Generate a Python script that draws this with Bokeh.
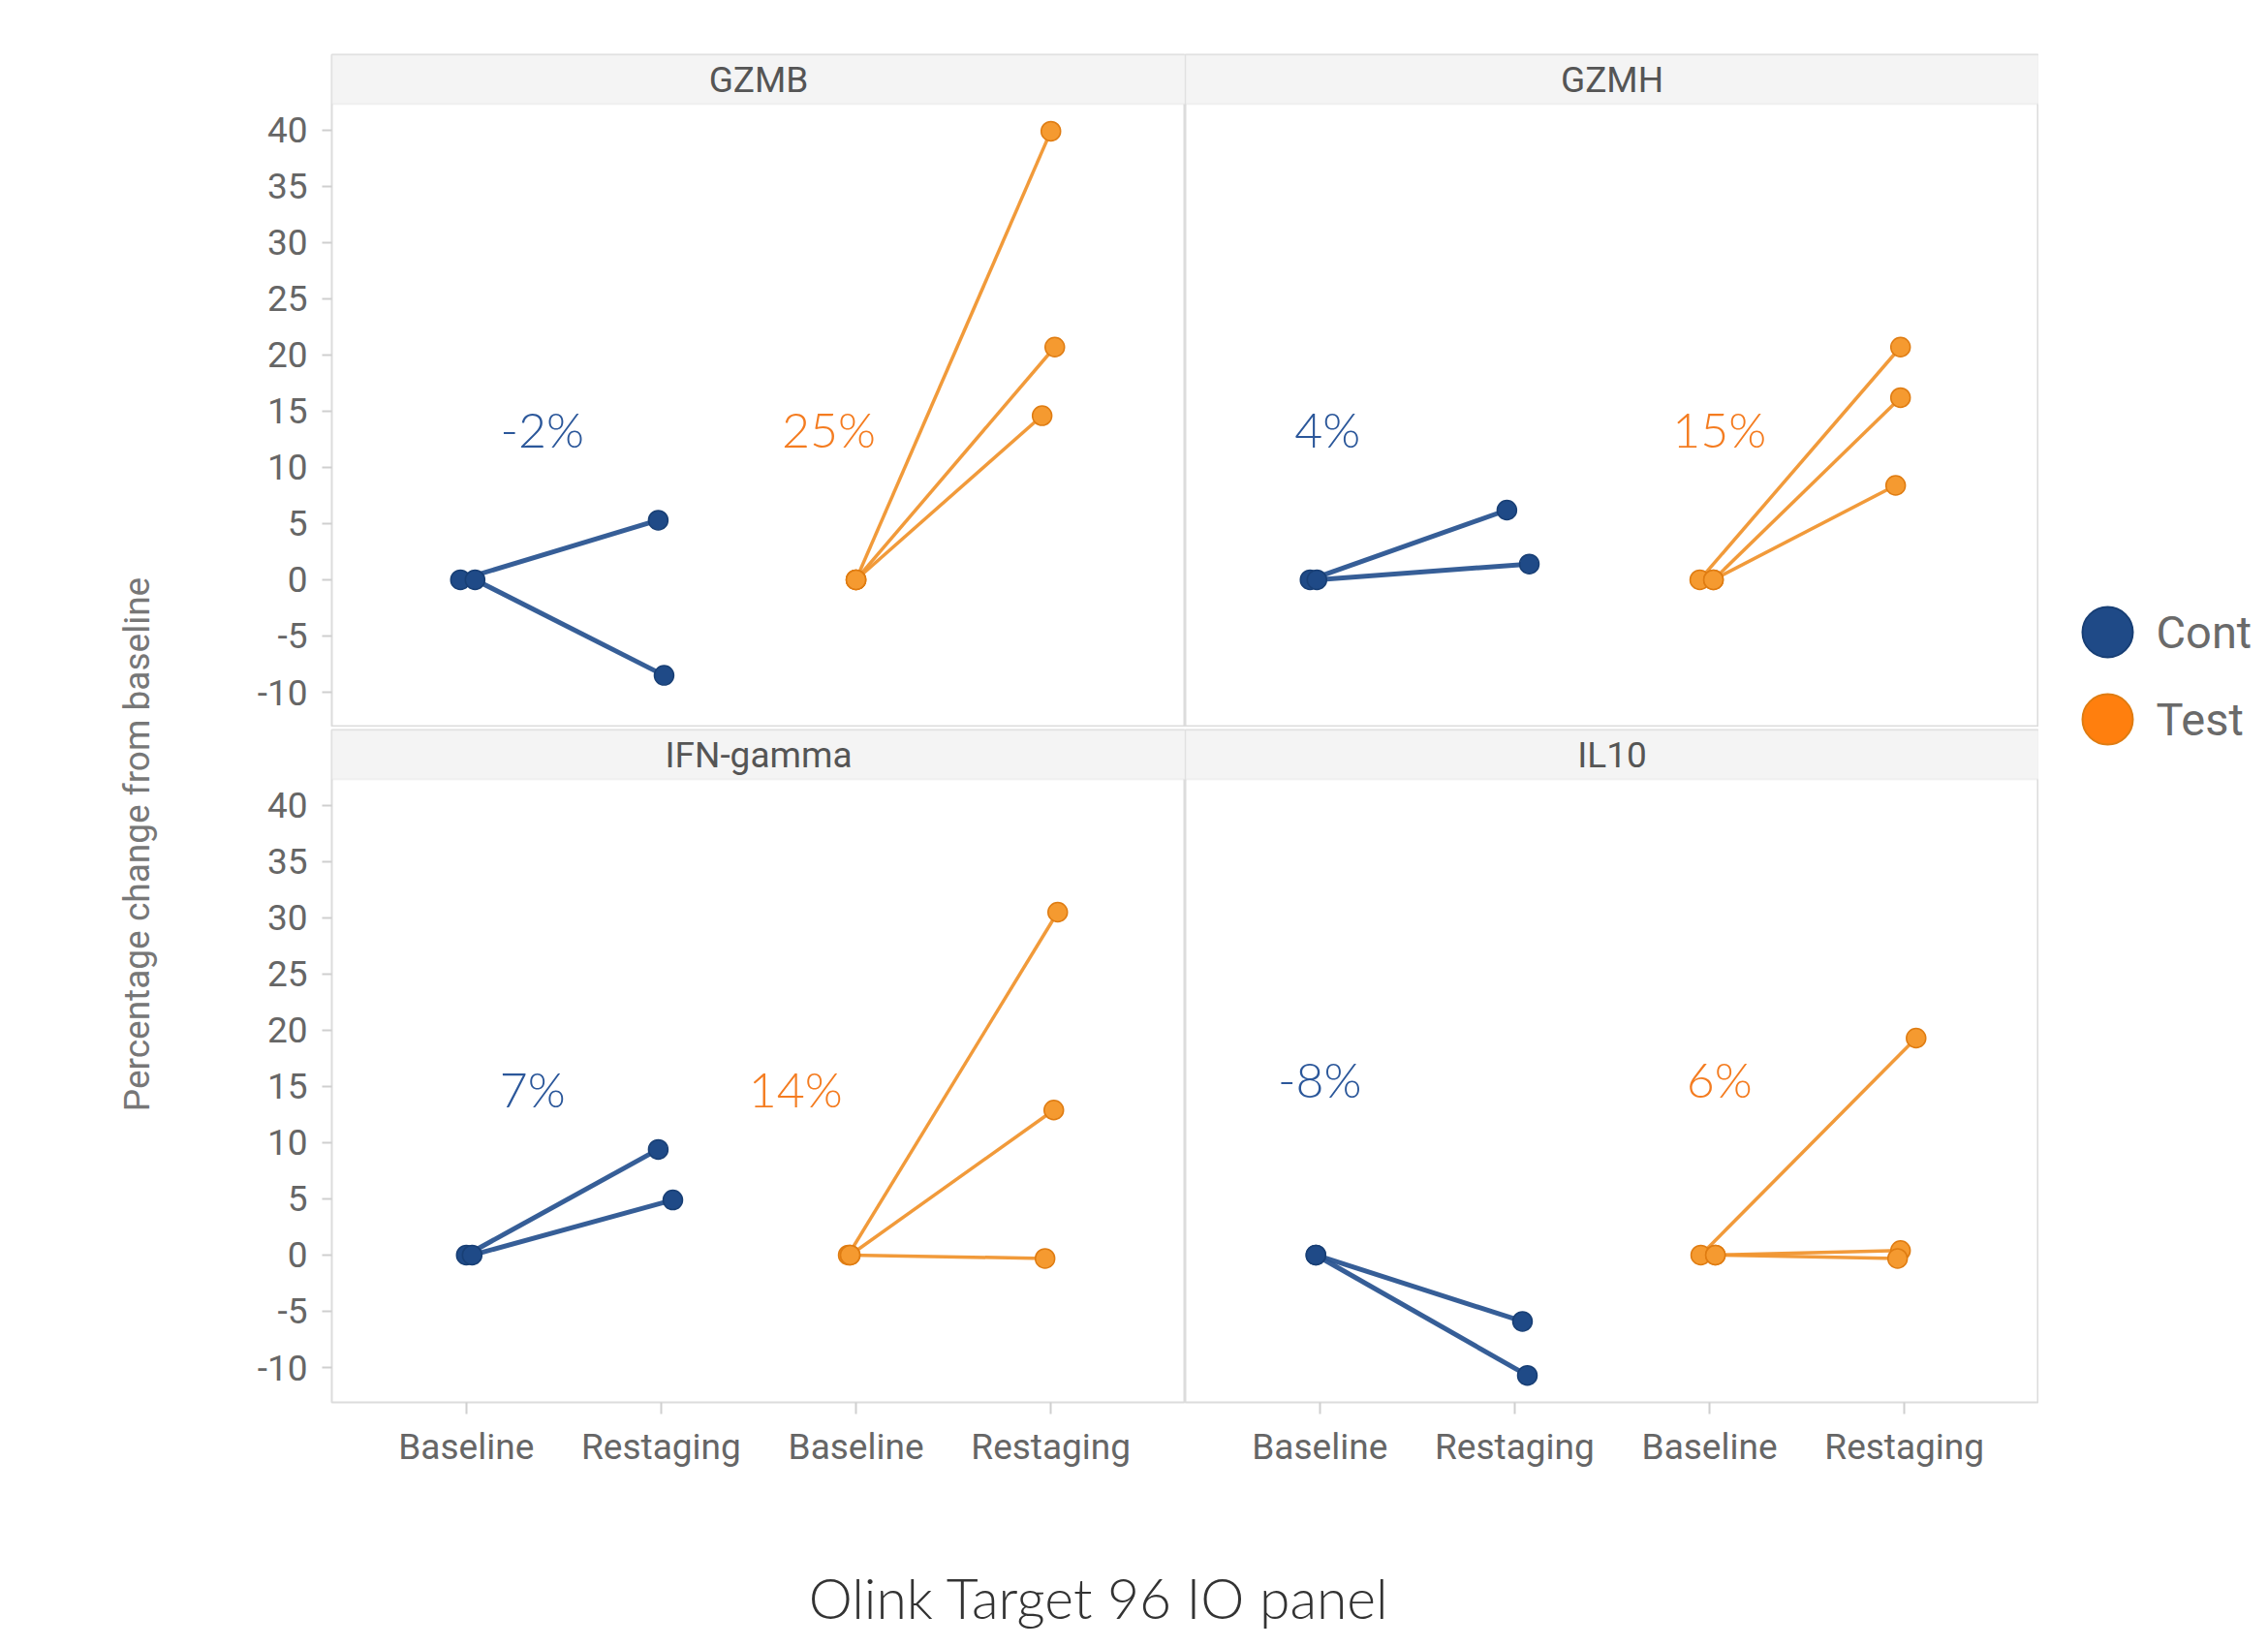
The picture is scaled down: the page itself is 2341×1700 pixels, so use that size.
import math
from bokeh.plotting import figure
from bokeh.models import (ColumnDataSource, Range1d, FixedTicker, BoxAnnotation, Label)
from bokeh.layouts import row, column
from bokeh.core.properties import value
from bokeh.embed import file_html
from bokeh.resources import INLINE

# ---------------- data ----------------
proteins = ["GZMB", "GZMH", "IFN-gamma", "IL10"]
timepoints = ["Baseline", "Restaging"]
groups = ["Control", "Test"]

control_baseline = [[0, 0], [0, 0], [0, 0], [0, 0]]
control_restaging = [[5.3, -8.5], [6.2, 1.4], [9.4, 4.9], [-5.9, -10.7]]
test_baseline = [[0, 0, 0], [0, 0, 0], [0, 0, 0], [0, 0, 0]]
test_restaging = [[39.9, 20.7, 14.6], [20.7, 16.2, 8.4], [30.5, 12.9, -0.3], [19.3, 0.4, -0.3]]

# small horizontal jitter of each subject (category units)
control_jitter_base = [[-0.03, 0.045], [-0.05, -0.015], [0.0, 0.03], [-0.02, -0.02]]
control_jitter_rest = [[-0.015, 0.015], [-0.04, 0.075], [-0.015, 0.06], [0.04, 0.065]]
test_jitter_base = [[0.0, 0.0, 0.0], [-0.05, 0.02, 0.02], [-0.04, -0.03, -0.03], [-0.045, 0.03, 0.03]]
test_jitter_rest = [[0.0, 0.02, -0.045], [-0.02, -0.02, -0.045], [0.035, 0.015, -0.03], [0.06, -0.02, -0.035]]

control_pct = ["-2%", "4%", "7%", "-8%"]
test_pct = ["25%", "15%", "14%", "6%"]

y_ticks = [-10, -5, 0, 5, 10, 15, 20, 25, 30, 35, 40]

# --------------- layout / style (not data) ---------------
pct_x_control = [0.39, 0.04, 0.34, 0.0]
pct_x_test = [1.86, 2.05, 1.69, 2.05]
pct_y = [13.4, 13.4, 14.8, 15.6]

CTRL_LINE = "#2b5591"
CTRL_FILL = "#1f4a87"
CTRL_EDGE = "#183f75"
TEST_LINE = "#f0952f"
TEST_FILL = "#f59a30"
TEST_EDGE = "#df7c12"
CTRL_TXT = "#2b579a"
TEST_TXT = "#f47c20"
GRID_COL = "#dcdcdc"
TICK_COL = "#cfcfcf"
LABEL_COL = "#666666"
LIGHT_FONT = "'Lato Light', Lato"

X0, X1 = -0.69, 3.69
Y0, Y1 = -13.1, 46.7
STRIP_Y = 42.3

YT_W = 199
AX_W = 143
FRAME_W = 881
FRAME_H = 694
TOP_B = 56
GAP = 3
BOT_B = 82
LEG_W = 221
TOTAL_W = YT_W + AX_W + 2 * FRAME_W + LEG_W
TOP_H = TOP_B + FRAME_H
BOT_H = GAP + FRAME_H + BOT_B
PANELS_H = TOP_H + BOT_H
TITLE_H = 155


def make_panel(i, left_axis, bottom_axis):
    w = FRAME_W + (AX_W if left_axis else 0)
    h = (TOP_H if i < 2 else BOT_H)
    p = figure(width=w, height=h, x_range=Range1d(X0, X1), y_range=Range1d(Y0, Y1),
               output_backend="svg", toolbar_location=None,
               x_axis_location="below" if bottom_axis else None,
               y_axis_location="left" if left_axis else None,
               min_border=0)
    p.min_border_left = AX_W if left_axis else 0
    p.min_border_right = 0
    p.min_border_top = TOP_B if i < 2 else GAP
    p.min_border_bottom = BOT_B if bottom_axis else 0
    p.background_fill_color = "white"
    p.border_fill_color = "white"
    p.outline_line_color = GRID_COL
    p.outline_line_width = 2
    p.grid.visible = False

    if left_axis:
        ax = p.yaxis[0]
        ax.ticker = FixedTicker(ticks=y_ticks)
        ax.major_label_overrides = {t: str(t) for t in y_ticks}
        ax.axis_line_color = None
        ax.major_tick_line_color = TICK_COL
        ax.major_tick_line_width = 2
        ax.major_tick_out = 10
        ax.major_tick_in = 0
        ax.minor_tick_line_color = None
        ax.major_label_standoff = 15
        ax.major_label_text_font = "Roboto"
        ax.major_label_text_font_size = "37px"
        ax.major_label_text_color = LABEL_COL
    if bottom_axis:
        ax = p.xaxis[0]
        ax.ticker = FixedTicker(ticks=[0, 1, 2, 3])
        ax.major_label_overrides = {0: timepoints[0], 1: timepoints[1],
                                    2: timepoints[0], 3: timepoints[1]}
        ax.axis_line_color = None
        ax.major_tick_line_color = TICK_COL
        ax.major_tick_line_width = 2
        ax.major_tick_out = 12
        ax.major_tick_in = 0
        ax.minor_tick_line_color = None
        ax.major_label_standoff = 12
        ax.major_label_text_font = "Roboto"
        ax.major_label_text_font_size = "37px"
        ax.major_label_text_color = LABEL_COL

    # strip header
    p.add_layout(BoxAnnotation(left=X0, right=X1, bottom=STRIP_Y, top=Y1,
                               fill_color="#f4f4f4", fill_alpha=1,
                               line_color=GRID_COL, line_width=2, level="underlay"))
    p.add_layout(Label(x=(X0 + X1) / 2, y=(STRIP_Y + Y1) / 2, text=proteins[i],
                       text_align="center", text_baseline="middle",
                       text_font="Roboto", text_font_size="37px", text_color="#555555"))

    # data
    for g, (base, rest, jb, jr, lc, fc, ec, lw) in enumerate([
        (control_baseline, control_restaging, control_jitter_base, control_jitter_rest,
         CTRL_LINE, CTRL_FILL, CTRL_EDGE, 5),
        (test_baseline, test_restaging, test_jitter_base, test_jitter_rest,
         TEST_LINE, TEST_FILL, TEST_EDGE, 3.5)]):
        xb = [2 * g + 0 + j for j in jb[i]]
        xr = [2 * g + 1 + j for j in jr[i]]
        seg = ColumnDataSource(dict(x0=xb, y0=base[i], x1=xr, y1=rest[i]))
        p.segment(x0="x0", y0="y0", x1="x1", y1="y1", source=seg,
                  line_color=lc, line_width=lw, line_alpha=0.95)
        pts = ColumnDataSource(dict(x=xb + xr, y=list(base[i]) + list(rest[i])))
        p.scatter(x="x", y="y", source=pts, size=20, marker="circle",
                  fill_color=fc, line_color=ec, line_width=1.5)

    txt = ColumnDataSource(dict(x=[pct_x_control[i], pct_x_test[i]],
                                y=[pct_y[i], pct_y[i]],
                                t=[control_pct[i], test_pct[i]],
                                c=[CTRL_TXT, TEST_TXT]))
    p.text(x="x", y="y", text="t", source=txt, text_color="c",
           text_font=value(LIGHT_FONT), text_font_size="50px",
           text_align="center", text_baseline="middle")
    return p


tl = make_panel(0, True, False)
tr = make_panel(1, False, False)
bl = make_panel(2, True, True)
br = make_panel(3, False, True)


def blank_fig(w, h):
    f = figure(width=w, height=h, x_range=Range1d(0, w), y_range=Range1d(0, h),
               output_backend="svg", toolbar_location=None, x_axis_location=None,
               y_axis_location=None, min_border=0, outline_line_color=None)
    f.grid.visible = False
    return f


# y-axis title
yt = blank_fig(YT_W, PANELS_H)
yt.add_layout(Label(x=141, y=PANELS_H - 871, text="Percentage change from baseline",
                    angle=math.pi / 2, text_align="center", text_baseline="middle",
                    text_font="Roboto", text_font_size="37px", text_color="#777777"))

# legend (drawn in its own strip to the right of the panels)
lg = blank_fig(LEG_W, PANELS_H)
LEG_TOP = PANELS_H - 652
LEG_STEP = 90
leg_src = ColumnDataSource(dict(
    x=[71] * len(groups),
    y=[LEG_TOP - k * LEG_STEP for k in range(len(groups))],
    tx=[121] * len(groups),
    label=groups,
    fill=[CTRL_FILL, "#ff7f0e"],
    edge=[CTRL_EDGE, TEST_EDGE]))
lg.scatter(x="x", y="y", source=leg_src, marker="circle", size=52,
           fill_color="fill", line_color="edge", line_width=2)
lg.text(x="tx", y="y", text="label", source=leg_src, text_font=value("Roboto"),
        text_font_size="47px", text_color="#6a6a6a", text_baseline="middle",
        text_align="left")

# bottom title
bt = blank_fig(TOTAL_W, TITLE_H)
bt.add_layout(Label(x=1134, y=36, text="Olink Target 96 IO panel",
                    text_align="center", text_baseline="middle",
                    text_font=LIGHT_FONT, text_font_size="57px", text_color="#333333"))

panels = column(row(tl, tr), row(bl, br))
layout = column(row(yt, panels, lg), bt)

open("out.html", "w").write(file_html(layout, INLINE))
